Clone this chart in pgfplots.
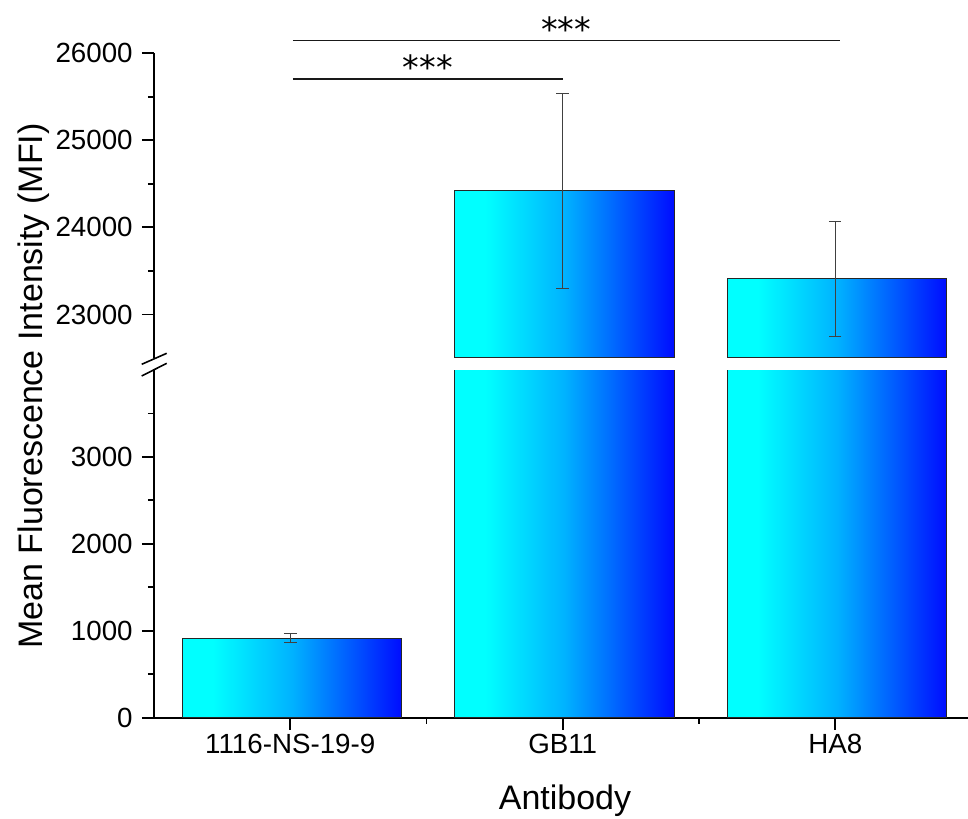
\documentclass[border=0pt]{standalone}
\usepackage{pgfplots}
\usepackage{pgfplotstable}
\pgfplotsset{compat=1.18}
\usepackage{fontspec}
\setmainfont{Liberation Sans}
\newfontfamily\djv{DejaVu Sans}

\pgfdeclarehorizontalshading{barshade}{100bp}{rgb(0bp)=(0,1,1); rgb(25bp)=(0,1,1); rgb(32bp)=(0,1,1); rgb(50bp)=(0,0.7,1); rgb(75bp)=(0,0.05,1); rgb(100bp)=(0,0.05,1)}

% mean and standard error of each antibody
\pgfplotstableread{
x y err
1 915 52
2 24422 1122
3 23413 660
}\datatable

\pgfplotsset{
  common/.style={
    scale only axis,
    width=613.1pt,
    xmin=0.5, xmax=3.5,
    tick align=outside,
    major tick length=9pt,
    minor tick length=4.5pt,
    tick style={line width=1.4pt, black},
    axis line style={line width=1.4pt, black},
    tick label style={font=\fontsize{20.8}{24}\selectfont},
    yticklabel style={xshift=-3.5pt},
    scaled y ticks=false,
    /pgf/number format/1000 sep={},
    /pgf/number format/assume math mode=true,
  },
  barstyle/.style={ybar, bar width=0.805, bar shift=0.006, draw=black!85, line width=0.8pt, shade, shading=barshade},
  errstyle/.style={draw=none, forget plot,
    error bars/.cd, y dir=both, y explicit,
    error mark=|,
    error bar style={draw=black!75, line width=0.6pt},
    error mark options={draw=black!75, line width=0.6pt, mark size=4.7pt}},
}

\begin{document}
\begin{tikzpicture}
\useasboundingbox (0,0) rectangle (726pt,-613.5pt);

% lower segment
\begin{axis}[common,
  at={(115.5pt,-538.3pt)}, anchor=south west,
  height=260.8pt,
  ymin=0, ymax=4000,
  ytick={0,1000,2000,3000},
  minor ytick={500,1500,2500,3500},
  axis x line*=bottom, axis y line*=left,
  xtick={1,2,3},
  xticklabels={1116-NS-19-9,GB11,HA8},
  minor xtick={1.5,2.5},
]
\addplot[barstyle] coordinates {(1,915)};
\addplot[barstyle] coordinates {(2,24422)};
\addplot[barstyle] coordinates {(3,23413)};
\addplot[errstyle] table[x=x,y=y,y error=err]{\datatable};
\end{axis}

% upper segment
\begin{axis}[common,
  at={(115.5pt,-268.5pt)}, anchor=south west,
  height=228.5pt,
  ymin=22500, ymax=26000,
  ytick={23000,24000,25000,26000},
  minor ytick={23500,24500,25500},
  axis y line*=left, axis x line=none,
  clip mode=individual,
]
\addplot[barstyle] coordinates {(2,24422)};
\addplot[barstyle] coordinates {(3,23413)};
\addplot[errstyle] table[x=x,y=y,y error=err]{\datatable};
\draw[line width=0.8pt, black!90] (axis cs:1.01,26145) -- (axis cs:3.017,26145);
\draw[line width=0.8pt, black!90] (axis cs:1.01,25705) -- (axis cs:2.0,25705);
\node[anchor=base, inner sep=0pt, font=\djv\fontsize{25}{30}\selectfont] at (axis cs:2.013,26135) {***};
\node[anchor=base, inner sep=0pt, font=\djv\fontsize{25}{30}\selectfont] at (axis cs:1.505,25695) {***};
\end{axis}

\begin{scope}[x=0.75pt, y=-0.75pt]
\draw[line width=1.2pt] (141.7,364.3) -- (166.7,353.3);
\draw[line width=1.2pt] (141.7,376) -- (166.7,363.3);
\node[anchor=base, rotate=90, inner sep=0pt, font=\fontsize{25.5}{30}\selectfont] at (42,386) {Mean Fluorescence Intensity (MFI)};
\node[anchor=base, inner sep=0pt, font=\fontsize{25.5}{30}\selectfont] at (565,809) {Antibody};
\end{scope}
\end{tikzpicture}
\end{document}
